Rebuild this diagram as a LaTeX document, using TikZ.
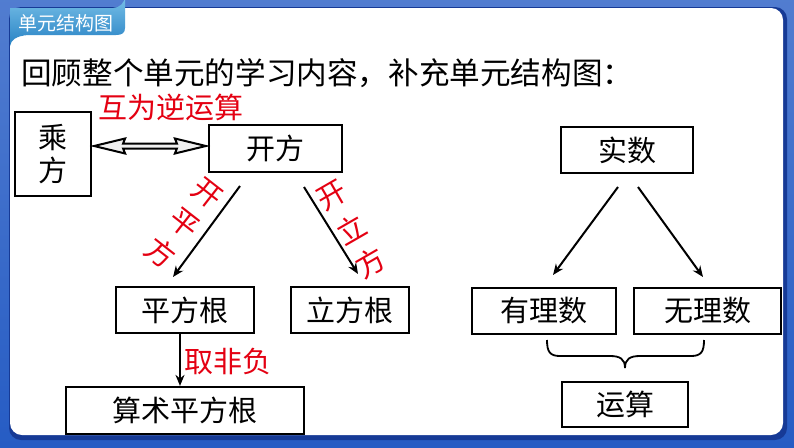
\documentclass[tikz,border=0pt]{standalone}
\usepackage{fontspec}
\setmainfont{Noto Sans CJK SC}
\usetikzlibrary{arrows.meta,calc}
\definecolor{redlab}{RGB}{228,0,18}
\definecolor{frameblue}{RGB}{38,92,196}
\definecolor{framedark}{RGB}{22,58,150}
\definecolor{tabtop}{RGB}{120,192,232}
\definecolor{tabbot}{RGB}{40,130,196}
\begin{document}
\begin{tikzpicture}[x=1pt,y=-1pt,
  box/.style={draw=black,line width=2.2pt,inner sep=0pt,font=\fontsize{29}{33}\selectfont},
  redlabel/.style={text=redlab,inner sep=0pt,font=\fontsize{29}{38}\selectfont},
  conn/.style={line width=2pt,-{Stealth[length=11pt,width=9pt]}},
  bracestyle/.style={line width=1.8pt}]
\useasboundingbox (0,0) rectangle (794,447);
% frame
\shade[top color=frameblue!80!white,bottom color=frameblue] (0,0) rectangle (794,447);
\fill[framedark,rounded corners=12pt] (9,7) rectangle (787,440);
\fill[white,rounded corners=12pt] (10,8) rectangle (783,435);
% tab
\shade[top color=tabtop,bottom color=tabbot]
  (10,8) -- (113,8) arc[start angle=-90,end angle=0,radius=12pt]
  -- (125,28) .. controls (125,33) and (122,35) .. (116,35)
  -- (28,35) .. controls (16,36) and (11,40) .. (10,46) -- cycle;
\node[text=white,inner sep=0pt,font=\fontsize{19}{19}\selectfont] (tabtitle) at (66,23) {单元结构图};
% heading
\node[anchor=west,inner sep=0pt,font=\fontsize{30.6}{30.6}\selectfont] (heading) at (21,73) {回顾整个单元的学习内容，补充单元结构图：};
% boxes
\node[box,minimum width=76pt,minimum height=84pt,align=center] (chengfang) at (53,154) {乘\\方};
\node[box,minimum width=133pt,minimum height=47pt] (kaifang) at (275.5,148.5) {开方};
\node[box,minimum width=138pt,minimum height=46pt] (pingfanggen) at (185,310) {平方根};
\node[box,minimum width=118pt,minimum height=46pt] (lifanggen) at (350,310) {立方根};
\node[box,minimum width=238pt,minimum height=47pt] (suanshu) at (185,410.5) {算术平方根};
\node[box,minimum width=132pt,minimum height=46pt] (shishu) at (627,150) {实数};
\node[box,minimum width=144pt,minimum height=46pt] (youli) at (544,311) {有理数};
\node[box,minimum width=147pt,minimum height=46pt] (wuli) at (707.5,311) {无理数};
\node[box,minimum width=126pt,minimum height=45pt] (yunsuan) at (625,404.5) {运算};
% double hollow arrow between chengfang and kaifang
\coordinate (dl) at ($(chengfang.east)+(2,-8)$);
\coordinate (dr) at ($(kaifang.west)+(-2,-2.5)$);
\draw[line width=2pt,fill=gray!12,line join=miter]
  (dl) -- ($(dl)+(31,-7.5)$) -- ($(dl)+(29,-2.5)$) -- ($(dr)+(-29,-2.5)$)
  -- ($(dr)+(-31,-7.5)$) -- (dr) -- ($(dr)+(-31,7.5)$) -- ($(dr)+(-29,2.5)$)
  -- ($(dl)+(29,2.5)$) -- ($(dl)+(31,7.5)$) -- cycle;
\node[redlabel] (huwei) at (171,107) {互为逆运算};
% arrows from kaifang
\coordinate (k1) at (240,186);
\coordinate (k2) at (304,187);
\draw[conn] (k1) -- (173,277);
\draw[conn] (k2) -- (358,274);
\node[redlabel,rotate=-38] (kpf1) at (207.4,193.1) {开};
\node[redlabel,rotate=-38] (kpf2) at (184,223) {平};
\node[redlabel,rotate=-38] (kpf3) at (160.6,252.9) {方};
\node[redlabel,rotate=30] (klf1) at (331.6,195.4) {开};
\node[redlabel,rotate=30] (klf2) at (351,229) {立};
\node[redlabel,rotate=30] (klf3) at (370.4,262.6) {方};
% pingfanggen -> suanshu
\draw[conn] (pingfanggen.south -| 180,0) -- (suanshu.north -| 180,0);
\node[redlabel] (qufeifu) at (228,361) {取非负};
% shishu arrows
\coordinate (s1) at (618,187);
\coordinate (s2) at (638,187);
\draw[conn] (s1) -- (553,275);
\draw[conn] (s2) -- (703,277);
% brace
\draw[bracestyle] (547,340) .. controls (547,352) and (550,356) .. (560,356)
  -- (610,356) .. controls (620,356) and (625,359) .. (625,368);
\draw[bracestyle] (704,340) .. controls (704,352) and (701,356) .. (691,356)
  -- (640,356) .. controls (630,356) and (625,359) .. (625,368);
\end{tikzpicture}
\end{document}
